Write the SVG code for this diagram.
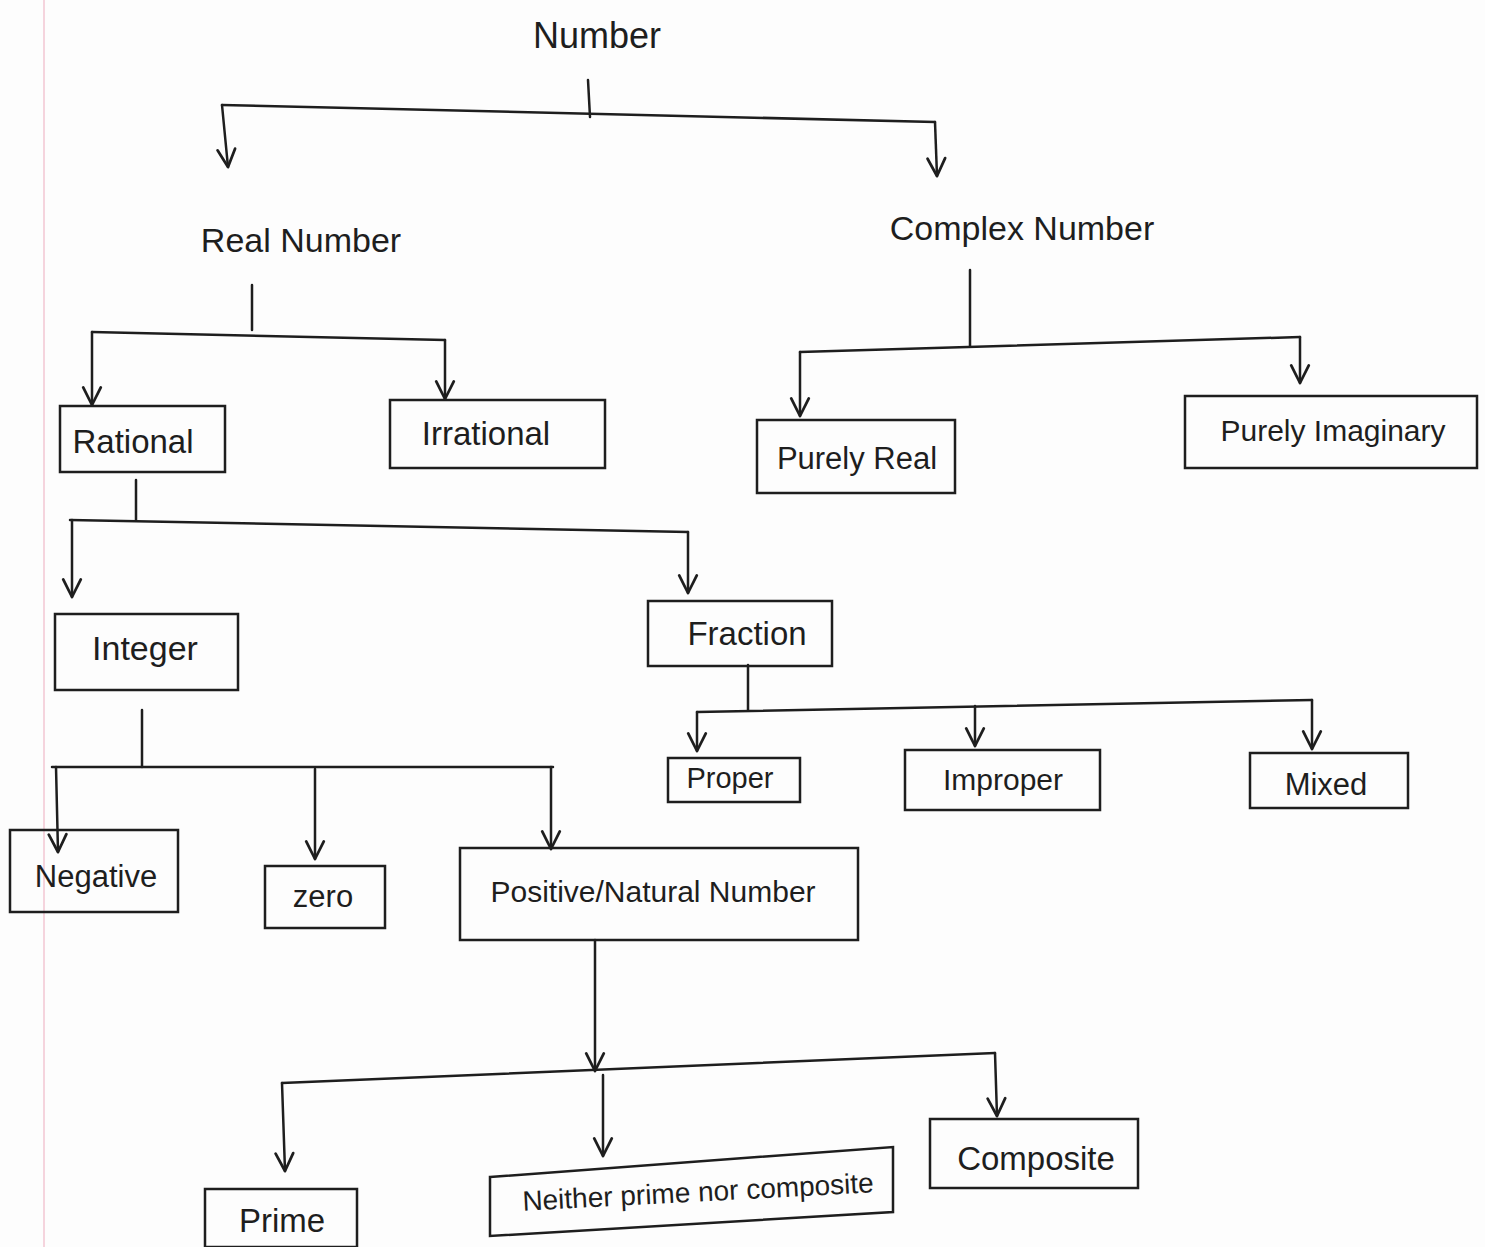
<svg xmlns="http://www.w3.org/2000/svg" width="1485" height="1247" viewBox="0 0 1485 1247">
<defs>
<style>
.t{font-family:"Liberation Sans","DejaVu Sans",sans-serif;fill:#1e1e1e;text-anchor:middle;dominant-baseline:central}
.b{fill:none;stroke:#1e1e1e;stroke-width:2.5}
.c{fill:none;stroke:#1e1e1e;stroke-width:2.5;stroke-linecap:round}
.a{marker-end:url(#arr)}
</style>
<marker id="arr" markerUnits="userSpaceOnUse" viewBox="0 0 20 20" refX="18" refY="10" markerWidth="22" markerHeight="22" orient="auto">
<path d="M2,2 L18,10 L2,18" fill="none" stroke="#1e1e1e" stroke-width="2.5" stroke-linecap="round" stroke-linejoin="round"/>
</marker>
</defs>
<rect width="1485" height="1247" fill="#fdfdfd"/>
<line x1="44" y1="0" x2="44" y2="1247" stroke="#f2c6d2" stroke-width="1.5"/>

<g id="connectors">
<path class="c" d="M588,80 L590,117"/>
<path class="c" d="M222,105 L935,122"/>
<path class="c a" d="M222,105 L228,167"/>
<path class="c a" d="M935,122 L937,176"/>

<path class="c" d="M252,285 L252,330"/>
<path class="c" d="M92,332 L445,340"/>
<path class="c a" d="M92,332 L92,405"/>
<path class="c a" d="M445,340 L445,399"/>

<path class="c" d="M970,270 L970,346"/>
<path class="c" d="M800,352 L1300,337"/>
<path class="c a" d="M800,352 L800,416"/>
<path class="c a" d="M1300,337 L1300,383"/>

<path class="c" d="M136,480 L136,520"/>
<path class="c" d="M70,520 L688,532"/>
<path class="c a" d="M72,520 L72,597"/>
<path class="c a" d="M688,532 L688,593"/>

<path class="c" d="M748,665 L748,710"/>
<path class="c" d="M697,712 L1312,700"/>
<path class="c a" d="M697,712 L697,751"/>
<path class="c a" d="M975,706 L975,746"/>
<path class="c a" d="M1312,700 L1312,749"/>

<path class="c" d="M142,710 L142,767"/>
<path class="c" d="M52,767 L553,767"/>
<path class="c a" d="M56,767 L58,852"/>
<path class="c a" d="M315,769 L315,859"/>
<path class="c a" d="M551,767 L551,849"/>

<path class="c a" d="M595,940 L595,1071"/>
<path class="c" d="M282,1083 L995,1053"/>
<path class="c a" d="M282,1083 L285,1171"/>
<path class="c a" d="M603,1075 L603,1156"/>
<path class="c a" d="M995,1053 L997,1116"/>
</g>

<g id="n-number"><text class="t" x="597" y="35" font-size="36">Number</text></g>
<g id="n-real"><text class="t" x="301" y="240" font-size="34">Real Number</text></g>
<g id="n-complex"><text class="t" x="1022" y="228" font-size="34">Complex Number</text></g>

<g id="n-rational"><rect class="b" x="60" y="406" width="165" height="66"/><text class="t" x="133" y="441" font-size="33">Rational</text></g>
<g id="n-irrational"><rect class="b" x="390" y="400" width="215" height="68"/><text class="t" x="486" y="433" font-size="33">Irrational</text></g>
<g id="n-purelyreal"><rect class="b" x="757" y="420" width="198" height="73"/><text class="t" x="857" y="458" font-size="31">Purely Real</text></g>
<g id="n-purelyimag"><rect class="b" x="1185" y="396" width="292" height="72"/><text class="t" x="1333" y="430" font-size="30">Purely Imaginary</text></g>

<g id="n-integer"><rect class="b" x="55" y="614" width="183" height="76"/><text class="t" x="145" y="648" font-size="34">Integer</text></g>
<g id="n-fraction"><rect class="b" x="648" y="601" width="184" height="65"/><text class="t" x="747" y="633" font-size="33">Fraction</text></g>

<g id="n-proper"><rect class="b" x="668" y="758" width="132" height="44"/><text class="t" x="730" y="778" font-size="29">Proper</text></g>
<g id="n-improper"><rect class="b" x="905" y="750" width="195" height="60"/><text class="t" x="1003" y="779" font-size="30">Improper</text></g>
<g id="n-mixed"><rect class="b" x="1250" y="753" width="158" height="55"/><text class="t" x="1326" y="784" font-size="31">Mixed</text></g>

<g id="n-negative"><rect class="b" x="10" y="830" width="168" height="82"/><text class="t" x="96" y="876" font-size="31">Negative</text></g>
<g id="n-zero"><rect class="b" x="265" y="866" width="120" height="62"/><text class="t" x="323" y="896" font-size="31">zero</text></g>
<g id="n-positive"><rect class="b" x="460" y="848" width="398" height="92"/><text class="t" x="653" y="891" font-size="30">Positive/Natural Number</text></g>

<g id="n-prime"><rect class="b" x="205" y="1189" width="152" height="58"/><text class="t" x="282" y="1220" font-size="33">Prime</text></g>
<g id="n-neither"><polygon class="b" points="490,1177 893,1147 893,1212 490,1236"/><text class="t" x="698" y="1192" font-size="28" transform="rotate(-3 698 1192)">Neither prime nor composite</text></g>
<g id="n-composite"><rect class="b" x="930" y="1119" width="208" height="69"/><text class="t" x="1036" y="1158" font-size="33">Composite</text></g>
</svg>
